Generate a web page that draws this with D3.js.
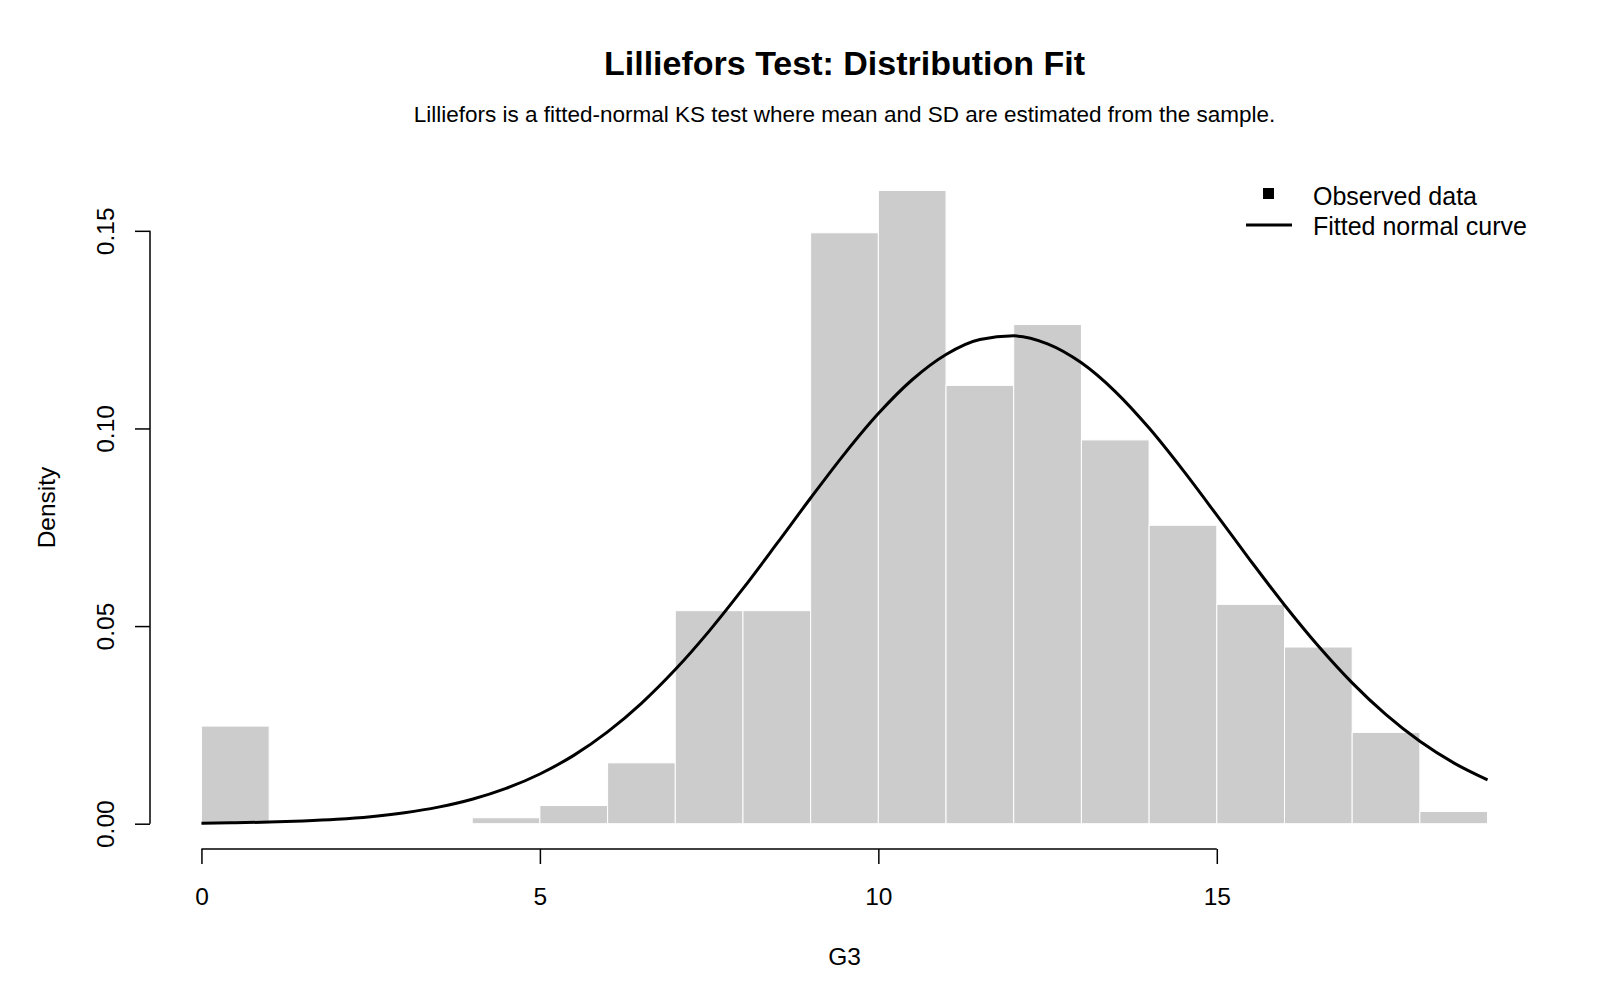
<!DOCTYPE html>
<html>
<head>
<meta charset="utf-8">
<script src="https://cdn.jsdelivr.net/npm/d3@7"></script>
<style>
  body { margin: 0; background: #fff; }
  svg { font-family: "Liberation Sans", Arial, sans-serif; }
</style>
</head>
<body>
<svg id="chart" width="1600" height="1000"></svg>
<script>
// Histogram bins of G3 (left edge, right edge) and their densities
const binStarts = [0, 1, 2, 3, 4, 5, 6, 7, 8, 9, 10, 11, 12, 13, 14, 15, 16, 17, 18];
const binEnds = [1, 2, 3, 4, 5, 6, 7, 8, 9, 10, 11, 12, 13, 14, 15, 16, 17, 18, 19];
const densities = [0.0247, 0, 0, 0, 0.0015, 0.0046, 0.0154, 0.0539, 0.0539, 0.1495,
  0.1602, 0.1109, 0.1263, 0.0971, 0.0755, 0.0555, 0.0447, 0.0231, 0.0031];

const curveX = [0, 0.5, 1, 1.5, 2, 2.5, 3, 3.5, 4, 4.5, 5, 5.5, 6, 6.5, 7, 7.5, 8, 8.5, 9, 9.5,
  10, 10.5, 11, 11.5, 12, 12.5, 13, 13.5, 14, 14.5, 15, 15.5, 16, 16.5, 17, 17.5, 18, 18.5, 19];
const curveY = [0.00014, 0.00024, 0.00041, 0.00069, 0.00112, 0.00178, 0.00277, 0.00419,
  0.00619, 0.00893, 0.01258, 0.01729, 0.02323, 0.03046, 0.03899, 0.04873, 0.05946, 0.07084,
  0.08240, 0.09358, 0.10376, 0.11232, 0.11872, 0.12251, 0.12343, 0.12141, 0.11660, 0.10933,
  0.10009, 0.08945, 0.07807, 0.06652, 0.05533, 0.04494, 0.03563, 0.02759, 0.02085, 0.01539,
  0.01109];

const xTicks = [0, 5, 10, 15];
const yTicks = [0, 0.05, 0.10, 0.15];
const legendLabels = ['Observed data', 'Fitted normal curve'];

const plot = { left: 150, right: 1539, top: 166, bottom: 849 };
const tickLen = 15;
const baseSize = 24.5;
const fontStack = '"Liberation Sans", Arial, sans-serif';

const svg = d3.select('#chart');

// R-style 4% padding around the data range
const x = d3.scaleLinear()
  .domain([-0.76, 19.76])
  .range([plot.left, plot.right]);
const y = d3.scaleLinear()
  .domain([-0.0064, 0.1664])
  .range([plot.bottom, plot.top]);

// Bars
svg.append('g')
  .selectAll('rect')
  .data(densities.map((d, i) => ({ x0: binStarts[i], x1: binEnds[i], d })))
  .join('rect')
  .attr('x', d => x(d.x0))
  .attr('width', d => x(d.x1) - x(d.x0))
  .attr('y', d => y(d.d))
  .attr('height', d => y(0) - y(d.d))
  .attr('fill', '#cccccc')
  .attr('stroke', '#ffffff')
  .attr('stroke-width', 1);

// Normal curve
const line = d3.line()
  .x(d => x(d[0]))
  .y(d => y(d[1]))
  .curve(d3.curveMonotoneX);
svg.append('path')
  .datum(curveX.map((v, i) => [v, curveY[i]]))
  .attr('d', line)
  .attr('fill', 'none')
  .attr('stroke', '#000')
  .attr('stroke-width', 3);

// X axis (R style: line only from first to last tick)
const xAxis = svg.append('g')
  .attr('transform', `translate(0,${plot.bottom})`)
  .call(d3.axisBottom(x).tickValues(xTicks).tickSize(tickLen).tickFormat(d3.format('d')));
xAxis.attr('font-size', null).attr('font-family', null);
xAxis.select('.domain').remove();
xAxis.append('line')
  .attr('x1', x(xTicks[0]))
  .attr('x2', x(xTicks[xTicks.length - 1]))
  .attr('stroke', '#000')
  .attr('stroke-width', 1.5);
xAxis.selectAll('.tick line').attr('stroke-width', 1.5);
xAxis.selectAll('.tick text')
  .attr('y', 47)
  .attr('dy', '0.35em')
  .style('font-size', baseSize + 'px')
  .style('font-family', fontStack)
  .attr('fill', '#000');

// Y axis with rotated labels
const yAxis = svg.append('g')
  .attr('transform', `translate(${plot.left},0)`)
  .call(d3.axisLeft(y).tickValues(yTicks).tickSize(tickLen).tickFormat(d3.format('.2f')));
yAxis.attr('font-size', null).attr('font-family', null);
yAxis.select('.domain').remove();
yAxis.append('line')
  .attr('y1', y(yTicks[0]))
  .attr('y2', y(yTicks[yTicks.length - 1]))
  .attr('stroke', '#000')
  .attr('stroke-width', 1.5);
yAxis.selectAll('.tick line').attr('stroke-width', 1.5);
yAxis.selectAll('.tick text')
  .attr('x', null)
  .attr('dy', null)
  .attr('transform', 'translate(-45,0) rotate(-90)')
  .attr('text-anchor', 'middle')
  .attr('dominant-baseline', 'central')
  .style('font-size', baseSize + 'px')
  .style('font-family', fontStack)
  .attr('fill', '#000');

// Titles
const cx = (plot.left + plot.right) / 2;
svg.append('text')
  .attr('x', cx)
  .attr('y', 75)
  .attr('text-anchor', 'middle')
  .attr('font-size', 34)
  .attr('font-weight', 'bold')
  .text('Lilliefors Test: Distribution Fit');
svg.append('text')
  .attr('x', cx)
  .attr('y', 122)
  .attr('text-anchor', 'middle')
  .attr('font-size', 22.5)
  .text('Lilliefors is a fitted-normal KS test where mean and SD are estimated from the sample.');
svg.append('text')
  .attr('x', cx)
  .attr('y', 956)
  .attr('dominant-baseline', 'central')
  .attr('text-anchor', 'middle')
  .attr('font-size', baseSize)
  .text('G3');
svg.append('text')
  .attr('transform', `translate(46,${(plot.top + plot.bottom) / 2}) rotate(-90)`)
  .attr('dominant-baseline', 'central')
  .attr('text-anchor', 'middle')
  .attr('font-size', baseSize)
  .text('Density');

// Legend
const legend = svg.append('g');
legend.append('rect')
  .attr('x', 1263)
  .attr('y', 188)
  .attr('width', 11)
  .attr('height', 11)
  .attr('fill', '#000');
legend.append('line')
  .attr('x1', 1246)
  .attr('x2', 1292)
  .attr('y1', 225)
  .attr('y2', 225)
  .attr('stroke', '#000')
  .attr('stroke-width', 3);
legend.selectAll('text.lab')
  .data(legendLabels)
  .join('text')
  .attr('class', 'lab')
  .attr('x', 1313)
  .attr('y', (d, i) => 196 + i * 30)
  .attr('dominant-baseline', 'central')
  .attr('font-size', 25)
  .text(d => d);
</script>
</body>
</html>
